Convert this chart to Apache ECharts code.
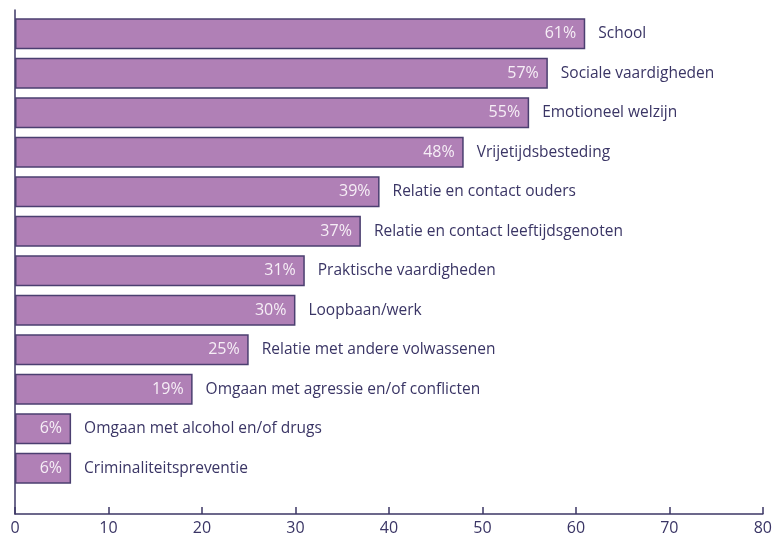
<!DOCTYPE html>
<html>
<head>
<meta charset="utf-8">
<script src="https://cdn.jsdelivr.net/npm/echarts@6/dist/echarts.min.js"></script>
<style>
  html, body { margin: 0; padding: 0; background: #ffffff; }
  #chart { width: 775px; height: 536px; }
</style>
</head>
<body>
<div id="chart"></div>
<script>
// Onderwerpen en percentages
const categories = [
  'School',
  'Sociale vaardigheden',
  'Emotioneel welzijn',
  'Vrijetijdsbesteding',
  'Relatie en contact ouders',
  'Relatie en contact leeftijdsgenoten',
  'Praktische vaardigheden',
  'Loopbaan/werk',
  'Relatie met andere volwassenen',
  'Omgaan met agressie en/of conflicten',
  'Omgaan met alcohol en/of drugs',
  'Criminaliteitspreventie'
];
const percentages = [61, 57, 55, 48, 39, 37, 31, 30, 25, 19, 6, 6];
const xTicks = [0, 10, 20, 30, 40, 50, 60, 70, 80];

const axisColor = '#3d3766';
const textColor = '#3a3565';
const barFill = '#b080b6';
const barEdge = '#4b3f70';
const fontFamily = '"Open Sans", "Noto Sans", sans-serif';

const chart = echarts.init(document.getElementById('chart'), null, { renderer: 'canvas' });

chart.setOption({
  animation: false,
  grid: [
    { left: 15, right: 9, top: 14, bottom: 48, containLabel: false },
    { left: 15, right: 9, top: 10, bottom: 22, containLabel: false }
  ],
  xAxis: [
    {
      gridIndex: 0,
      type: 'value',
      min: xTicks[0],
      max: xTicks[xTicks.length - 1],
      interval: 10,
      offset: 26,
      axisLine: { show: true, lineStyle: { color: axisColor, width: 1.5 } },
      axisTick: { show: true, inside: true, length: 7, lineStyle: { color: axisColor, width: 1.5 } },
      axisLabel: { color: textColor, fontSize: 16, fontFamily: fontFamily, margin: 6 },
      splitLine: { show: false }
    },
    {
      gridIndex: 1,
      type: 'value',
      min: 0,
      max: 80,
      show: false
    }
  ],
  yAxis: [
    {
      gridIndex: 0,
      type: 'category',
      data: categories,
      inverse: true,
      axisLine: { show: false },
      axisTick: { show: false },
      axisLabel: { show: false },
      splitLine: { show: false }
    },
    {
      // vertical baseline spanning the full plot height
      gridIndex: 1,
      type: 'value',
      min: 0,
      max: 1,
      axisLine: { show: true, lineStyle: { color: axisColor, width: 1.5 } },
      axisTick: { show: false },
      axisLabel: { show: false },
      splitLine: { show: false }
    }
  ],
  series: [
    {
      type: 'bar',
      xAxisIndex: 0,
      yAxisIndex: 0,
      data: percentages,
      barWidth: 31,
      itemStyle: { color: barFill, borderColor: barEdge, borderWidth: 1.5 },
      label: {
        show: true,
        position: 'insideRight',
        distance: 9,
        formatter: '{c}%',
        color: '#f6eef6',
        fontSize: 16,
        fontFamily: fontFamily
      },
      z: 2
    },
    {
      // transparent overlay carrying the topic names beside each bar
      type: 'bar',
      xAxisIndex: 0,
      yAxisIndex: 0,
      data: percentages,
      barWidth: 31,
      barGap: '-100%',
      itemStyle: { color: 'rgba(0,0,0,0)' },
      label: {
        show: true,
        position: 'right',
        distance: 13,
        formatter: '{b}',
        color: textColor,
        fontSize: 15.5,
        fontFamily: fontFamily
      },
      z: 3
    }
  ]
});
</script>
</body>
</html>
